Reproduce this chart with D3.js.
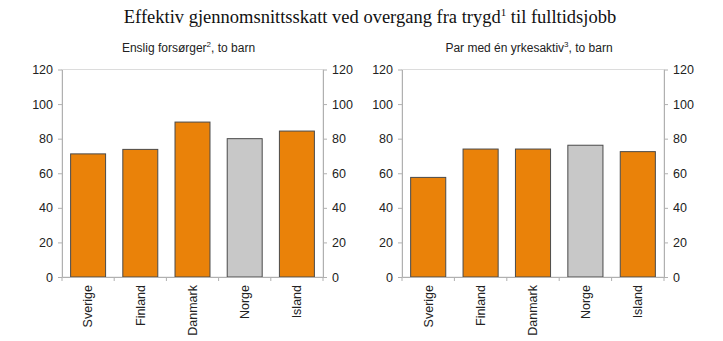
<!DOCTYPE html>
<html><head><meta charset="utf-8">
<script src="https://cdn.jsdelivr.net/npm/d3@7"></script>
<style>body{margin:0;background:#fff}svg{display:block}</style>
</head><body>
<svg id="c" width="723" height="341"></svg>
<script>
const categories = ["Sverige", "Finland", "Danmark", "Norge", "Island"];
const enslig = [71.2, 73.8, 89.6, 80.0, 84.4];
const par = [57.6, 74.0, 74.0, 76.2, 72.5];
const yTicks = [0, 20, 40, 60, 80, 100, 120];
const title = "Effektiv gjennomsnittsskatt ved overgang fra trygd";
const subtitles = [["Enslig forsørger", "2", ", to barn"], ["Par med én yrkesaktiv", "3", ", to barn"]];

const svg = d3.select("#c");
const orange = "#EA8209", grey = "#C8C8C8";

const t = svg.append("text").attr("x", 370).attr("y", 23).attr("text-anchor", "middle")
  .attr("font-family", "Liberation Serif, Times New Roman, serif").attr("font-size", 18.5).attr("fill", "#111");
t.append("tspan").text(title);
t.append("tspan").text("1").attr("font-size", 11).attr("dy", -7);
t.append("tspan").text(" til fulltidsjobb").attr("dy", 7);

const panels = [
  {x0: 62, x1: 323, data: enslig, sub: subtitles[0]},
  {x0: 402, x1: 664, data: par, sub: subtitles[1]}
];
const yTop = 69.5, yBot = 277;
panels.forEach(p => {
  const g = svg.append("g");
  const x = d3.scaleBand().domain(categories).range([p.x0, p.x1]).paddingInner(0.33).paddingOuter(0.165);
  const y = d3.scaleLinear().domain([0, 120]).range([yBot, yTop]);
  g.append("rect").attr("x", p.x0).attr("y", yTop).attr("width", p.x1 - p.x0).attr("height", yBot - yTop)
    .attr("fill", "none").attr("stroke", "#dcdcdc").attr("stroke-width", 1);
  g.selectAll("rect.bar").data(p.data).enter().append("rect").attr("class", "bar")
    .attr("x", (d, i) => x(categories[i])).attr("width", x.bandwidth())
    .attr("y", d => y(d)).attr("height", d => yBot - y(d))
    .attr("fill", (d, i) => categories[i] === "Norge" ? grey : orange)
    .attr("stroke", "#4a4a4a").attr("stroke-width", 1);
  const styleAxis = a => {
    a.select(".domain").attr("stroke", "#b0b0b0");
    a.selectAll(".tick line").attr("stroke", "#b0b0b0");
    a.selectAll("text").attr("font-family", "Liberation Sans, Arial, sans-serif").attr("font-size", 12.5).attr("fill", "#222");
  };
  const yl = g.append("g").attr("transform", `translate(${p.x0},0)`)
    .call(d3.axisLeft(y).tickValues(yTicks).tickSize(4).tickSizeOuter(0).tickPadding(5));
  styleAxis(yl);
  const yr = g.append("g").attr("transform", `translate(${p.x1},0)`)
    .call(d3.axisRight(y).tickValues(yTicks).tickSize(4).tickSizeOuter(0).tickPadding(5));
  styleAxis(yr);
  const xa = g.append("g").attr("transform", `translate(0,${yBot})`)
    .call(d3.axisBottom(x).tickSize(0).tickSizeOuter(0).tickPadding(0));
  xa.select(".domain").attr("stroke", "#b0b0b0");
  xa.selectAll(".tick text").attr("font-family", "Liberation Sans, Arial, sans-serif").attr("font-size", 12.5).attr("fill", "#222")
    .attr("transform", "rotate(-90)").attr("text-anchor", "end").attr("x", -8).attr("y", 0).attr("dy", "0.35em");
  const bounds = d3.range(categories.length + 1).map(i => p.x0 + (p.x1 - p.x0) * i / categories.length);
  g.selectAll("line.bt").data(bounds).enter().append("line")
    .attr("x1", d => d).attr("x2", d => d).attr("y1", yBot).attr("y2", yBot + 4).attr("stroke", "#b0b0b0");
  const s = g.append("text").attr("x", (p.x0 + p.x1) / 2 - 4).attr("y", 52).attr("text-anchor", "middle")
    .attr("font-family", "Liberation Sans, Arial, sans-serif").attr("font-size", 12).attr("fill", "#222");
  s.append("tspan").text(p.sub[0]);
  s.append("tspan").text(p.sub[1]).attr("font-size", 8).attr("dy", -5);
  s.append("tspan").text(p.sub[2]).attr("dy", 5);
});
</script>
</body></html>
